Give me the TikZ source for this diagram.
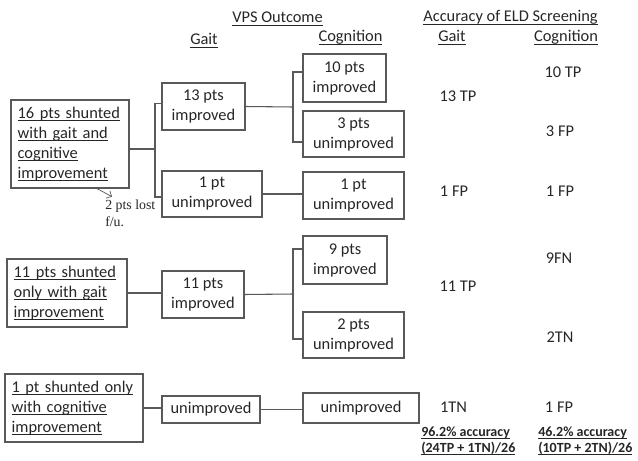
\documentclass[tikz,border=0pt]{standalone}
\usepackage{fontspec}
\setmainfont{Carlito}
\newfontfamily\notefont{Liberation Serif}
\usetikzlibrary{arrows.meta}
\newcommand{\ulin}[1]{\leavevmode\setbox0=\hbox{#1}\rlap{\rule[-2.4pt]{\wd0}{0.6pt}}\box0}

\begin{document}
\begin{tikzpicture}[x=0.75pt, y=-0.75pt, >={Straight Barb[length=3pt]},
  every node/.style={font=\fontsize{12.3}{15}\selectfont, text=black!85},
  pbox/.style 2 args={draw=black!65, line width=0.8pt, minimum width=#1*0.75pt, minimum height=#2*0.75pt, inner sep=0pt, align=center},
  lbox/.style 2 args={draw=black!65, line width=0.8pt, minimum width=#1*0.75pt, minimum height=#2*0.75pt, inner xsep=5pt, inner ysep=0pt, align=left},
  link/.style={draw=black!65, line width=0.8pt},
  small/.style={font=\notefont\fontsize{10.4}{12.4}\selectfont},
  acc/.style={font=\fontsize{10.5}{12}\selectfont\bfseries, anchor=base west, inner sep=0pt}]
  \useasboundingbox (0,0) rectangle (638,460);
  % headers
  \node[anchor=base] (hvps) at (277.5,23) {\ulin{VPS Outcome}};
  \node[anchor=base] (hacc) at (510.5,22) {\ulin{Accuracy of ELD Screening}};
  \node[anchor=base] (hgait) at (204,45) {\ulin{Gait}};
  \node[anchor=base] (hcog) at (350.5,42) {\ulin{Cognition}};
  \node[anchor=base] (hagait) at (452,42) {\ulin{Gait}};
  \node[anchor=base] (hacog) at (566,42) {\ulin{Cognition}};
  % shunted groups
  \node[lbox={118}{88}, text width=78.5pt] (b16) at (70,144) {\ulin{16 pts shunted}\\\ulin{with gait and}\\\ulin{cognitive}\\\ulin{improvement}};
  \node[lbox={120}{68}, text width=80pt] (b11) at (67,293) {\ulin{11 pts shunted}\\\ulin{only with gait}\\\ulin{improvement}};
  \node[lbox={138}{68}, text width=93.5pt] (b1) at (74,408) {\ulin{1 pt shunted only}\\\ulin{with cognitive}\\\ulin{improvement}};
  \node[small, align=left, anchor=north west, inner sep=0pt] (lost) at (105,200) {2 pts lost\\f/u.};
  % gait outcome
  \node[pbox={83}{47}] (g13) at (203.5,106.5) {13 pts\\improved};
  \node[pbox={100}{46}] (g1) at (212,194) {1 pt\\unimproved};
  \node[pbox={82}{47}] (g11) at (203,294.5) {11 pts\\improved};
  \node[pbox={98}{27}] (gu) at (211,409.5) {unimproved};
  % cognition outcome
  \node[pbox={83}{48}] (c10) at (344.5,78) {10 pts\\improved};
  \node[pbox={101}{46}] (c3) at (353.5,134) {3 pts\\unimproved};
  \node[pbox={101}{47}] (c1) at (353.5,195.5) {1 pt\\unimproved};
  \node[pbox={84}{48}] (c9) at (345,260) {9 pts\\improved};
  \node[pbox={101}{46}] (c2) at (353.5,335) {2 pts\\unimproved};
  \node[pbox={116}{30}] (cu) at (361,408) {unimproved};
  % connectors
  \coordinate (j1) at (155,149);
  \draw[link] ([yshift=-3.75pt]b16.east) -- (j1);
  \draw[link] ([yshift=2.6pt]g13.west) -| (j1) |- ([yshift=-2.25pt]g1.west);
  \coordinate (j2) at (293,107);
  \draw[link] (g13.east) -- (j2);
  \draw[link] ([yshift=4.5pt]c10.west) -| (j2) |- ([yshift=-6pt]c3.west);
  \draw[link] (g1.east) -- (g1.east -| c1.west);
  \draw[link] (b11.east) -- (b11.east -| g11.west);
  \coordinate (j3) at (293,294);
  \draw[link] (g11.east) -- (j3);
  \draw[link] ([yshift=8.25pt]c9.west) -| (j3) |- ([yshift=-3pt]c2.west);
  \draw[link] (b1.east) -- (b1.east -| gu.west);
  \draw[link] (gu.east) -- (gu.east -| cu.west);
  \draw[->, black!70, line width=0.5pt] ([shift={(18.75pt,0.75pt)}]b16.south) -- ([shift={(5.25pt,2.5pt)}]lost.north west);
  % screening accuracy
  \node[anchor=base] (tp10) at (563,77) {10 TP};
  \node[anchor=base] (tp13) at (458,101) {13 TP};
  \node[anchor=base] (fp3) at (560,136) {3 FP};
  \node[anchor=base] (fp1g) at (454,196) {1 FP};
  \node[anchor=base] (fp1c) at (560,196) {1 FP};
  \node[anchor=base] (fn9) at (559,263) {9FN};
  \node[anchor=base] (tp11) at (458,291) {11 TP};
  \node[anchor=base] (tn2) at (560,342) {2TN};
  \node[anchor=base] (tn1) at (453.5,412) {1TN};
  \node[anchor=base] (fp1b) at (559,412) {1 FP};
  \node[acc] (accg) at (421,436) {\ulin{96.2\% accuracy}};
  \node[acc] (accgf) at (421,452) {\ulin{(24TP + 1TN)/26}};
  \node[acc] (accc) at (538,436) {\ulin{46.2\% accuracy}};
  \node[acc] (acccf) at (538,452) {\ulin{(10TP + 2TN)/26}};
\end{tikzpicture}
\end{document}
